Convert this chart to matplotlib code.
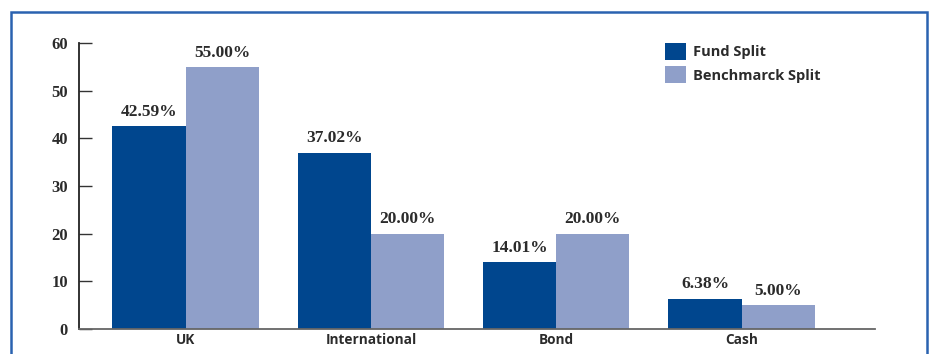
import matplotlib
matplotlib.use("Agg")
import matplotlib.pyplot as plt
from matplotlib.patches import Rectangle
import numpy as np

categories = ["UK", "International", "Bond", "Cash"]
fund_split = [42.59, 37.02, 14.01, 6.38]
benchmark_split = [55.00, 20.00, 20.00, 5.00]
series_names = ["Fund Split", "Benchmarck Split"]
yticks = [0, 10, 20, 30, 40, 50, 60]

c_fund = "#00468e"
c_bench = "#8f9fc9"
txt = "#2b2b2b"
sans = ["Open Sans", "DejaVu Sans"]
serif = ["Liberation Serif", "DejaVu Serif"]

fig = plt.figure(figsize=(9.3, 3.54), dpi=100)
W, H = 930, 354
ax = fig.add_axes([79 / W, 1 - 329 / H, (875 - 79) / W, (329 - 43) / H])

x = np.arange(len(categories))
bw = 0.395
b1 = ax.bar(x - bw / 2, fund_split, bw, color=c_fund, label=series_names[0])
b2 = ax.bar(x + bw / 2, benchmark_split, bw, color=c_bench, label=series_names[1])

for bars, vals in ((b1, fund_split), (b2, benchmark_split)):
    for r, v in zip(bars, vals):
        ax.annotate(f"{v:.2f}%", (r.get_x() + r.get_width() / 2, v),
                    xytext=(0, 4.5), textcoords="offset points",
                    ha="center", va="bottom", fontsize=12.5, fontweight="bold",
                    family=serif, color=txt)

ax.set_xlim(-0.575, 3.72)
ax.set_ylim(0, 60)
ax.set_yticks(yticks)
ax.set_yticklabels([str(t) for t in yticks], family=serif, fontweight="bold",
                   fontsize=12, color=txt)
ax.set_xticks(x)
ax.set_xticklabels(categories, family=sans, fontweight="bold", fontsize=9.8, color=txt)
ax.tick_params(axis="y", direction="in", length=9, width=1, color="#333333", pad=8)
ax.tick_params(axis="x", length=0, pad=3)
ax.spines["top"].set_visible(False)
ax.spines["right"].set_visible(False)
ax.spines["left"].set_color("#222222")
ax.spines["left"].set_linewidth(1.3)
ax.spines["bottom"].set_color("#666666")
ax.spines["bottom"].set_linewidth(1.3)

leg = ax.legend(loc="upper left", bbox_to_anchor=(665 / W, 1 - 43 / H),
                bbox_transform=fig.transFigure, borderpad=0, borderaxespad=0,
                frameon=False, handlelength=1.44, handleheight=1.44,
                handletextpad=0.45, labelspacing=0.4,
                prop={"family": sans, "weight": "bold", "size": 10.5})
for t in leg.get_texts():
    t.set_color(txt)

fig.patches.append(Rectangle((10.5 / W, -0.05), (927 - 10.5) / W, 1.05 - 11.5 / H,
                             transform=fig.transFigure, fill=False,
                             edgecolor="#2a62b0", linewidth=1.8))

fig.savefig("out.png", dpi=100)
